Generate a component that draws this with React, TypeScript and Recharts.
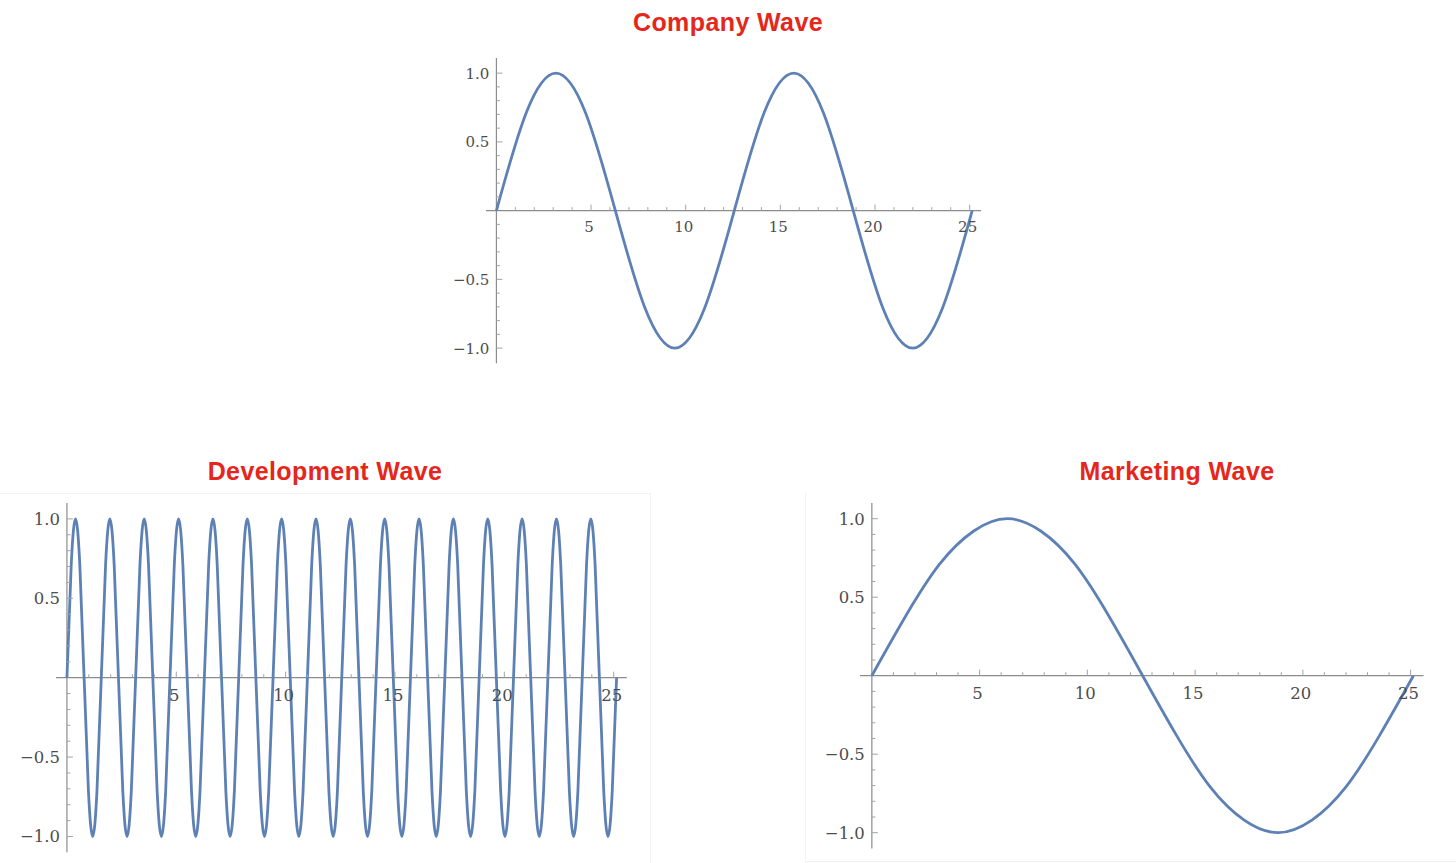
import React from 'react';
import { LineChart, Line, XAxis, YAxis, ReferenceLine } from 'recharts';

// x samples shared by the company and marketing waves (step ~ pi/2)
const wideX = [0, 1.571, 3.142, 4.712, 6.283, 7.854, 9.425, 10.996, 12.566, 14.137, 15.708, 17.279, 18.85, 20.42, 21.991, 23.562, 25.133];

const companyY = [0, 0.71, 1, 0.71, 0, -0.71, -1, -0.71, 0, 0.71, 1, 0.71, 0, -0.71, -1, -0.71, 0];

const marketingY = [0, 0.38, 0.71, 0.92, 1, 0.92, 0.71, 0.38, 0, -0.38, -0.71, -0.92, -1, -0.92, -0.71, -0.38, 0];

// development wave samples (step ~ pi/16)
const devX = [
  0, 0.196, 0.393, 0.589, 0.785, 0.982, 1.178, 1.374, 1.571, 1.767, 1.963, 2.16, 2.356, 2.553, 2.749, 2.945,
  3.142, 3.338, 3.534, 3.731, 3.927, 4.123, 4.32, 4.516, 4.712, 4.909, 5.105, 5.301, 5.498, 5.694, 5.89, 6.087,
  6.283, 6.48, 6.676, 6.872, 7.069, 7.265, 7.461, 7.658, 7.854, 8.05, 8.247, 8.443, 8.639, 8.836, 9.032, 9.228,
  9.425, 9.621, 9.817, 10.014, 10.21, 10.407, 10.603, 10.799, 10.996, 11.192, 11.388, 11.585, 11.781, 11.977, 12.174, 12.37,
  12.566, 12.763, 12.959, 13.155, 13.352, 13.548, 13.744, 13.941, 14.137, 14.334, 14.53, 14.726, 14.923, 15.119, 15.315, 15.512,
  15.708, 15.904, 16.101, 16.297, 16.493, 16.69, 16.886, 17.082, 17.279, 17.475, 17.671, 17.868, 18.064, 18.261, 18.457, 18.653,
  18.85, 19.046, 19.242, 19.439, 19.635, 19.831, 20.028, 20.224, 20.42, 20.617, 20.813, 21.009, 21.206, 21.402, 21.598, 21.795,
  21.991, 22.188, 22.384, 22.58, 22.777, 22.973, 23.169, 23.366, 23.562, 23.758, 23.955, 24.151, 24.347, 24.544, 24.74, 24.936,
  25.133,
];

const devY = [
  0, 0.71, 1, 0.71, 0, -0.71, -1, -0.71, 0, 0.71, 1, 0.71, 0, -0.71, -1, -0.71,
  0, 0.71, 1, 0.71, 0, -0.71, -1, -0.71, 0, 0.71, 1, 0.71, 0, -0.71, -1, -0.71,
  0, 0.71, 1, 0.71, 0, -0.71, -1, -0.71, 0, 0.71, 1, 0.71, 0, -0.71, -1, -0.71,
  0, 0.71, 1, 0.71, 0, -0.71, -1, -0.71, 0, 0.71, 1, 0.71, 0, -0.71, -1, -0.71,
  0, 0.71, 1, 0.71, 0, -0.71, -1, -0.71, 0, 0.71, 1, 0.71, 0, -0.71, -1, -0.71,
  0, 0.71, 1, 0.71, 0, -0.71, -1, -0.71, 0, 0.71, 1, 0.71, 0, -0.71, -1, -0.71,
  0, 0.71, 1, 0.71, 0, -0.71, -1, -0.71, 0, 0.71, 1, 0.71, 0, -0.71, -1, -0.71,
  0, 0.71, 1, 0.71, 0, -0.71, -1, -0.71, 0, 0.71, 1, 0.71, 0, -0.71, -1, -0.71,
  0,
];

const xTicks = [1, 2, 3, 4, 5, 6, 7, 8, 9, 10, 11, 12, 13, 14, 15, 16, 17, 18, 19, 20, 21, 22, 23, 24, 25];
const yTicks = [-1, -0.9, -0.8, -0.7, -0.6, -0.5, -0.4, -0.3, -0.2, -0.1, 0.1, 0.2, 0.3, 0.4, 0.5, 0.6, 0.7, 0.8, 0.9, 1];

const WAVE_BLUE = '#5e81b5';
const AXIS = '#8c8c8c';
const TICK = '#a3a3a3';
const LABEL = '#4d4d4d';
const TITLE_RED = '#e5261b';
const SERIF = '"DejaVu Serif", serif';

const fmtY = (v: number) => (v < 0 ? '\u2212' + Math.abs(v).toFixed(1) : v.toFixed(1));

interface WaveProps {
  title: string;
  titleX: number;
  titleY: number;
  xs: number[];
  ys: number[];
  ox: number;
  oy: number;
  sx: number;
  sy: number;
  xMin: number;
  xMax: number;
  yMax: number;
  fontSize: number;
}

const AXIS_H = 30;
const AXIS_W = 60;

const WavePlot: React.FC<WaveProps> = ({ title, titleX, titleY, xs, ys, ox, oy, sx, sy, xMin, xMax, yMax, fontSize }) => {
  const data = xs.map((x, i) => ({ x, y: ys[i] }));
  const pad = { top: 10, right: 20, bottom: 40, left: 70 };
  const plotW = (xMax - xMin) * sx;
  const plotH = 2 * yMax * sy;
  const left = ox + xMin * sx - pad.left;
  const top = oy - yMax * sy - pad.top;
  const lox = pad.left - xMin * sx;
  const loy = pad.top + yMax * sy;

  const renderXTick = (p: any) => {
    const v = p.payload.value;
    const major = v % 5 === 0;
    return (
      <g key={'x' + v}>
        <line x1={p.x} x2={p.x} y1={loy} y2={loy - (major ? 6 : 3.5)} stroke={TICK} strokeWidth={1} />
        {major && (
          <text x={p.x - 2} y={loy + fontSize * 1.4} textAnchor="middle" fontFamily={SERIF} fontSize={fontSize} fill={LABEL}>
            {v}
          </text>
        )}
      </g>
    );
  };

  const renderYTick = (p: any) => {
    const v = p.payload.value;
    const major = Math.abs(Math.abs(v) - 0.5) < 1e-6 || Math.abs(Math.abs(v) - 1) < 1e-6;
    return (
      <g key={'y' + v}>
        <line x1={lox} x2={lox + (major ? 6 : 3.5)} y1={p.y} y2={p.y} stroke={TICK} strokeWidth={1} />
        {major && (
          <text x={lox - 7} y={p.y} dy="0.36em" textAnchor="end" fontFamily={SERIF} fontSize={fontSize} fill={LABEL}>
            {fmtY(v)}
          </text>
        )}
      </g>
    );
  };

  return (
    <>
      <div
        style={{
          position: 'absolute',
          left: titleX - 200,
          top: titleY - 15,
          width: 400,
          lineHeight: '30px',
          textAlign: 'center',
          fontFamily: '"Liberation Sans", Arial, sans-serif',
          fontWeight: 700,
          fontSize: 25,
          letterSpacing: 0.4,
          color: TITLE_RED,
        }}
      >
        {title}
      </div>
      <div style={{ position: 'absolute', left, top }}>
        <LineChart
          width={plotW + pad.left + pad.right}
          height={plotH + pad.top + pad.bottom}
          data={data}
          margin={{ top: pad.top, right: pad.right, bottom: pad.bottom - AXIS_H, left: pad.left - AXIS_W }}
          style={{ overflow: 'visible' }}
        >
          <XAxis
            dataKey="x"
            type="number"
            domain={[xMin, xMax]}
            ticks={xTicks}
            interval={0}
            height={AXIS_H}
            axisLine={false}
            tickLine={false}
            allowDataOverflow
            tick={renderXTick}
          />
          <YAxis
            type="number"
            domain={[-yMax, yMax]}
            ticks={yTicks}
            interval={0}
            width={AXIS_W}
            axisLine={false}
            tickLine={false}
            allowDataOverflow
            tick={renderYTick}
          />
          <ReferenceLine y={0} stroke={AXIS} strokeWidth={1.2} />
          <ReferenceLine x={0} stroke={AXIS} strokeWidth={1.2} />
          <Line
            dataKey="y"
            type="natural"
            stroke={WAVE_BLUE}
            strokeWidth={2.8}
            dot={false}
            isAnimationActive={false}
          />
        </LineChart>
      </div>
    </>
  );
};

const App: React.FC = () => {
  return (
    <div style={{ position: 'absolute', left: 0, top: 0, width: 1456, height: 863, background: '#fff', overflow: 'hidden' }}>
      {/* faint panel edges from the original screenshot */}
      <div style={{ position: 'absolute', left: 0, top: 493, width: 650, height: 1, background: '#f3f3f3' }} />
      <div style={{ position: 'absolute', left: 650, top: 493, width: 1, height: 370, background: '#f3f3f3' }} />
      <div style={{ position: 'absolute', left: 805, top: 493, width: 1, height: 368, background: '#f3f3f3' }} />
      <div style={{ position: 'absolute', left: 805, top: 861, width: 651, height: 1, background: '#f0f0f0' }} />

      <WavePlot
        title="Company Wave"
        titleX={728}
        titleY={22}
        xs={wideX}
        ys={companyY}
        ox={496}
        oy={210.5}
        sx={18.93}
        sy={137.5}
        xMin={-0.55}
        xMax={25.6}
        yMax={1.11}
        fontSize={15}
      />
      <WavePlot
        title="Development Wave"
        titleX={325}
        titleY={471}
        xs={devX}
        ys={devY}
        ox={67}
        oy={678}
        sx={21.87}
        sy={158.8}
        xMin={-0.5}
        xMax={25.6}
        yMax={1.1}
        fontSize={16.5}
      />
      <WavePlot
        title="Marketing Wave"
        titleX={1177}
        titleY={471}
        xs={wideX}
        ys={marketingY}
        ox={872}
        oy={676}
        sx={21.55}
        sy={157}
        xMin={-0.55}
        xMax={25.6}
        yMax={1.1}
        fontSize={16.5}
      />
    </div>
  );
};

export default App;
